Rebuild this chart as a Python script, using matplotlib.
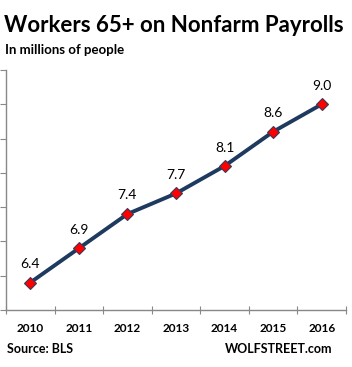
import matplotlib
matplotlib.use("Agg")
import matplotlib.pyplot as plt

years = ["2010", "2011", "2012", "2013", "2014", "2015", "2016"]
values = [6.4, 6.9, 7.4, 7.7, 8.1, 8.6, 9.0]
labels = ["6.4", "6.9", "7.4", "7.7", "8.1", "8.6", "9.0"]

plt.rcParams['font.family'] = ['Lato', 'DejaVu Sans']

fig = plt.figure(figsize=(3.52, 3.67), dpi=100)
ax = fig.add_axes([6/352, 57/367, 340/352, 240/367])

x = list(range(len(years)))
ax.plot(x, values, color='#1F3A5F', lw=2.8, zorder=2)
ax.plot(x, values, ls='none', marker='D', ms=6.5, mfc='#FF0000', mec='#3A3A5A', mew=0.8, zorder=3)
for xi, v, lab in zip(x, values, labels):
    ax.annotate(lab, (xi, v), xytext=(0, 9), textcoords='offset points',
                ha='center', va='bottom', fontsize=10, color='black')

ax.set_xlim(-0.5, len(years) - 0.5)
ax.set_ylim(6.0, 9.5)
ax.set_yticks([6.0 + 0.5 * i for i in range(8)])
ax.set_yticklabels([])
ax.set_xticks([i - 0.5 for i in range(len(years) + 1)])
ax.set_xticklabels([])
for xi, y in zip(x, years):
    ax.text(xi, -0.075, y, transform=ax.get_xaxis_transform(), ha='center', va='center',
            fontsize=8.5, fontweight='bold')
for s in ['top', 'right']:
    ax.spines[s].set_visible(False)
for s in ['left', 'bottom']:
    ax.spines[s].set_color('#888888')
    ax.spines[s].set_linewidth(1.0)
ax.tick_params(axis='y', direction='out', length=4, color='#888888', pad=0)
ax.tick_params(axis='x', direction='inout', length=6, color='#888888', pad=0)

fig.text(4/352, 1 - 25/367, "Workers 65+ on Nonfarm Payrolls", fontsize=16, fontweight='bold', va='center', ha='left')
fig.text(5/352, 1 - 50/367, "In millions of people", fontsize=9.5, fontweight='bold', va='center', ha='left')
fig.text(7/352, 1 - 349/367, "Source: BLS", fontsize=9, fontweight='bold', va='center', ha='left')
fig.text(332/352, 1 - 349/367, "WOLFSTREET.com", fontsize=9, fontweight='bold', va='center', ha='right')

fig.savefig("out.png", dpi=100)
